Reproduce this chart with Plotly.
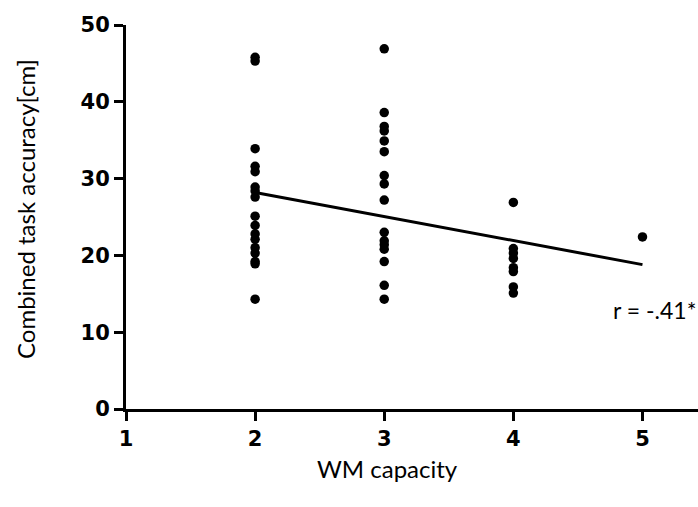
import plotly.graph_objects as go

wm2 = [45.8, 45.3, 33.9, 31.6, 30.9, 28.9, 28.4, 27.6, 25.1, 23.9, 22.8, 22.1, 21.0, 20.3, 19.2, 18.9, 14.3]
wm3 = [46.9, 38.6, 36.8, 36.2, 34.9, 33.5, 30.4, 29.3, 27.2, 23.0, 21.9, 21.4, 20.8, 19.2, 16.1, 14.3]
wm4 = [26.9, 20.9, 20.3, 19.6, 18.4, 17.9, 15.9, 15.1]
wm5 = [22.4]

# regression line as drawn in the figure
fit_x = [2, 5]
fit_y = [28.2, 18.8]

x_ticks = [1, 2, 3, 4, 5]
y_ticks = [0, 10, 20, 30, 40, 50]

groups = {2: wm2, 3: wm3, 4: wm4, 5: wm5}
xs, ys = [], []
for k, v in groups.items():
    xs += [k] * len(v)
    ys += v

fig = go.Figure()
fig.add_trace(go.Scatter(x=xs, y=ys, mode="markers",
                         marker=dict(color="black", size=9.5), cliponaxis=False, showlegend=False))
fig.add_trace(go.Scatter(x=fit_x, y=fit_y, mode="lines",
                         line=dict(color="black", width=3), cliponaxis=False, showlegend=False))

tickfont = dict(family="DejaVu Sans", size=21, color="black", weight="bold")
titlefont = dict(family="Lato", size=24, color="black")

# plot area in pixels
L, R, T, B, W, H = 126, 0, 25, 98, 698, 507
pw, ph = W - L - R, H - T - B


def px_to_paper(x, y):
    return (x - L) / pw, ((H - y) - B) / ph


xt_x, xt_y = px_to_paper(387, 468)
yt_x, yt_y = px_to_paper(25, 209)

fig.update_layout(
    width=W, height=H,
    margin=dict(l=L, r=R, t=T, b=B),
    plot_bgcolor="white", paper_bgcolor="white",
    xaxis=dict(range=[1, 5.43], tickvals=x_ticks, ticktext=[str(t) for t in x_ticks],
               showline=True, linecolor="black", linewidth=3, ticks="outside", ticklen=9, tickwidth=3,
               tickcolor="black", showgrid=False, zeroline=False, tickfont=tickfont),
    yaxis=dict(range=[0, 50], tickvals=y_ticks, ticktext=[str(t) for t in y_ticks],
               showline=True, linecolor="black", linewidth=3, ticks="outside", ticklen=9, tickwidth=3,
               tickcolor="black", showgrid=False, zeroline=False, tickfont=tickfont),
    annotations=[
        dict(x=1.0, y=12.9, xref="paper", yref="y", text="r = -.41*", showarrow=False,
             xanchor="right", font=dict(family="Lato", size=23, color="black")),
        dict(x=xt_x, y=xt_y, xref="paper", yref="paper", text="WM capacity", showarrow=False,
             xanchor="center", yanchor="middle", font=titlefont),
        dict(x=yt_x, y=yt_y, xref="paper", yref="paper", text="Combined task accuracy[cm]",
             showarrow=False, textangle=-90, xanchor="center", yanchor="middle", font=titlefont),
    ],
)
fig.write_html("out.html")
